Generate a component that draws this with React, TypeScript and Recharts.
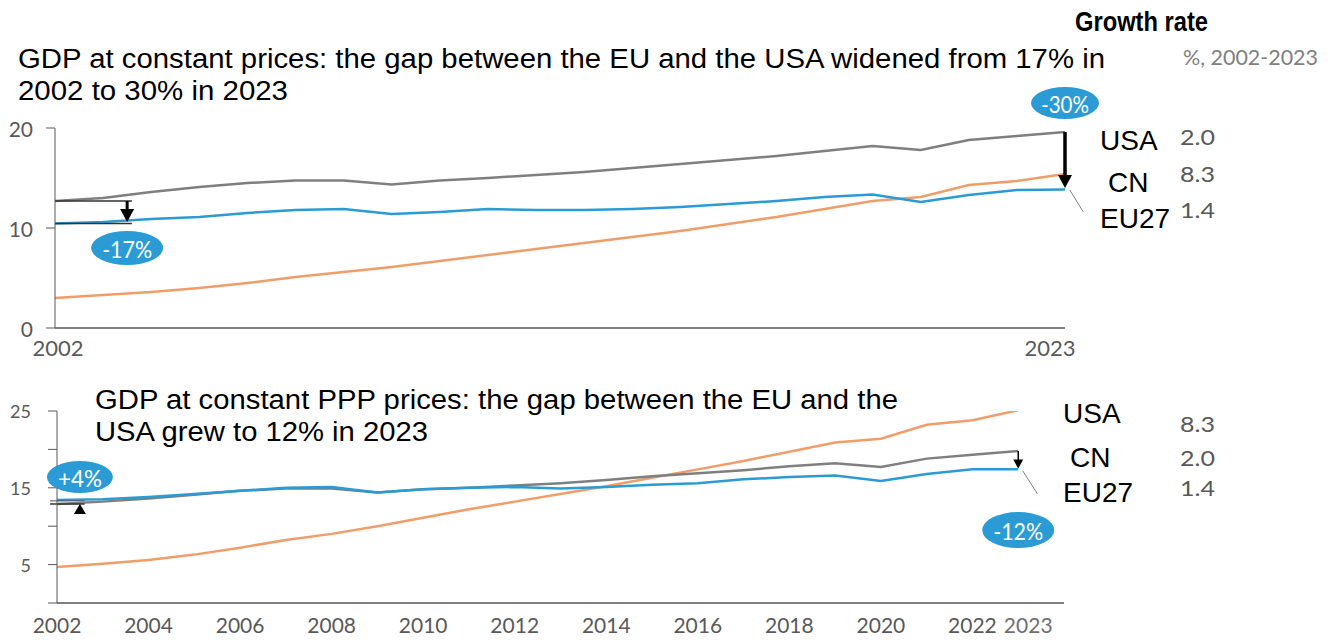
import React from 'react';
import { LineChart, Line, XAxis, YAxis, ReferenceLine, ReferenceDot } from 'recharts';

const years = [2002, 2003, 2004, 2005, 2006, 2007, 2008, 2009, 2010, 2011, 2012, 2013, 2014, 2015, 2016, 2017, 2018, 2019, 2020, 2021, 2022, 2023];

// GDP at constant prices (trillions)
const usaConst = [12.7, 13.0, 13.6, 14.1, 14.5, 14.75, 14.75, 14.35, 14.75, 15.0, 15.3, 15.6, 16.0, 16.4, 16.8, 17.2, 17.7, 18.2, 17.8, 18.8, 19.2, 19.6];
const euConst = [10.45, 10.6, 10.9, 11.1, 11.5, 11.8, 11.9, 11.4, 11.6, 11.9, 11.8, 11.8, 11.9, 12.1, 12.4, 12.7, 13.1, 13.35, 12.6, 13.3, 13.8, 13.85];
const cnConst = [3.0, 3.3, 3.6, 4.0, 4.5, 5.1, 5.6, 6.1, 6.7, 7.3, 7.9, 8.5, 9.1, 9.7, 10.4, 11.1, 11.9, 12.7, 13.1, 14.3, 14.7, 15.4];

// GDP at constant PPP prices (trillions)
const usaPpp = [12.9, 13.2, 13.6, 14.1, 14.6, 14.9, 14.9, 14.4, 14.8, 15.0, 15.3, 15.6, 16.0, 16.5, 16.9, 17.3, 17.8, 18.2, 17.7, 18.8, 19.3, 19.8];
const euPpp = [13.4, 13.5, 13.8, 14.2, 14.6, 15.0, 15.1, 14.4, 14.8, 15.0, 15.1, 14.9, 15.1, 15.4, 15.6, 16.1, 16.4, 16.6, 15.9, 16.8, 17.4, 17.4];
const cnPpp = [4.7, 5.1, 5.6, 6.3, 7.2, 8.2, 9.0, 10.0, 11.1, 12.2, 13.2, 14.2, 15.2, 16.3, 17.4, 18.5, 19.7, 20.9, 21.4, 23.2, 23.8, 25.1];

const topXTicks = [2002, 2023];
const topYTicks = [0, 10, 20];
const bottomXTicks = [2002, 2004, 2006, 2008, 2010, 2012, 2014, 2016, 2018, 2020, 2022, 2023];
const bottomYTicks = [0, 5, 10, 15, 20, 25];
const bottomYLabelled = [5, 15, 25];

const regions = ['USA', 'CN', 'EU27'];
const growthTop = ['2.0', '8.3', '1.4'];
const growthBottom = ['8.3', '2.0', '1.4'];

const topTitle = ['GDP at constant prices: the gap between the EU and the USA widened from 17% in', '2002 to 30% in 2023'];
const bottomTitle = ['GDP at constant PPP prices: the gap between the EU and the', 'USA grew to 12% in 2023'];

const topData = years.map((y, i) => ({ year: y, usa: usaConst[i], eu: euConst[i], cn: cnConst[i] }));
const bottomData = years.map((y, i) => ({ year: y, usa: usaPpp[i], eu: euPpp[i], cn: cnPpp[i] }));

const GRAY = '#7f7f7f';
const BLUE = '#2b9bd5';
const ORANGE = '#f09d6a';
const TICK = '#595959';
const SANS = '"Liberation Sans", Arial, sans-serif';
const CAL = 'Lato, "Open Sans", sans-serif';

const Badge = (text: string, rx: number, ry: number, len: number) => (p: any) => (
  <g>
    <ellipse cx={p.cx} cy={p.cy} rx={rx} ry={ry} fill={BLUE} />
    <text x={p.cx - len / 2} y={p.cy + 1} fill="#fff" fontFamily={CAL} fontSize={23} dominantBaseline="central" textLength={len} lengthAdjust="spacingAndGlyphs">{text}</text>
  </g>
);

const ArrowDown = (w: number, h: number) => (p: any) => (
  <polygon points={`${p.cx - w / 2},${p.cy - h} ${p.cx + w / 2},${p.cy - h} ${p.cx},${p.cy}`} fill="#000" />
);
const ArrowUp = (w: number, h: number) => (p: any) => (
  <polygon points={`${p.cx - w / 2},${p.cy + h} ${p.cx + w / 2},${p.cy + h} ${p.cx},${p.cy}`} fill="#000" />
);

const TopXTick = (p: any) => {
  const v = p.payload.value;
  const dx = v === 2023 ? -15 : 3;
  return (
    <text x={p.x + dx} y={356} fill={TICK} fontFamily={CAL} fontSize={22} textAnchor="middle">{v}</text>
  );
};
const TopYTick = (p: any) => (
  <text x={33} y={p.y} fill={TICK} fontFamily={CAL} fontSize={21} textAnchor="end" dominantBaseline="central">{p.payload.value}</text>
);
const BottomXTick = (p: any) => {
  const v = p.payload.value;
  const dx = v === 2023 ? 10 : 0;
  return (
    <text x={p.x + dx} y={273} fill={v === 2023 ? '#6f6f6f' : TICK} fontFamily={CAL} fontSize={21} textAnchor="middle">{v}</text>
  );
};
const BottomYTick = (p: any) => {
  const v = p.payload.value;
  if (!bottomYLabelled.includes(v)) return <g />;
  return (
    <text x={31} y={p.y} fill={TICK} fontFamily={CAL} fontSize={18} textAnchor="end" dominantBaseline="central">{v}</text>
  );
};

const Title = ({ x, y, len, children }: any) => (
  <text x={x} y={y} fontFamily={SANS} fontSize={27} fill="#000" textLength={len} lengthAdjust="spacingAndGlyphs">{children}</text>
);

export default function App() {
  return (
    <div style={{ position: 'absolute', left: 0, top: 0, width: 1331, height: 640, background: '#fff' }}>
      <div style={{ position: 'absolute', left: 0, top: 0 }}>
        <LineChart width={1331} height={368} data={topData} margin={{ top: 128, right: 266, bottom: 10, left: 0 }}>
          <XAxis dataKey="year" type="number" domain={[2002, 2023]} ticks={topXTicks} tick={<TopXTick />} tickLine={false} axisLine={{ stroke: GRAY, strokeWidth: 2 }} height={30} allowDataOverflow />
          <YAxis type="number" domain={[0, 20]} ticks={topYTicks} tick={<TopYTick />} tickSize={9} tickLine={{ stroke: TICK }} axisLine={{ stroke: TICK }} width={55} allowDataOverflow />
          <Line dataKey="usa" stroke={GRAY} strokeWidth={2.5} dot={false} isAnimationActive={false} />
          <Line dataKey="cn" stroke={ORANGE} strokeWidth={2.5} dot={false} isAnimationActive={false} />
          <Line dataKey="eu" stroke={BLUE} strokeWidth={2.5} dot={false} isAnimationActive={false} />
          <ReferenceLine segment={[{ x: 2002, y: 12.7 }, { x: 2003.6, y: 12.7 }]} stroke="#333" strokeWidth={1.5} ifOverflow="visible" />
          <ReferenceLine segment={[{ x: 2002, y: 10.45 }, { x: 2003.6, y: 10.45 }]} stroke="#333" strokeWidth={1.5} ifOverflow="visible" />
          <ReferenceLine segment={[{ x: 2003.5, y: 12.7 }, { x: 2003.5, y: 11.6 }]} stroke="#000" strokeWidth={3} ifOverflow="visible" />
          <ReferenceDot x={2003.5} y={10.6} r={1} shape={ArrowDown(14, 13)} ifOverflow="visible" />
          <ReferenceDot x={2003.5} y={8.0} r={1} shape={Badge('-17%', 36, 17, 50)} ifOverflow="visible" />
          <ReferenceLine segment={[{ x: 2023, y: 19.6 }, { x: 2023, y: 15.2 }]} stroke="#000" strokeWidth={3.5} ifOverflow="visible" />
          <ReferenceDot x={2023} y={14.0} r={1} shape={ArrowDown(14, 13)} ifOverflow="visible" />
          <ReferenceDot x={2023} y={22.5} r={1} shape={Badge('-30%', 34, 16, 48)} ifOverflow="visible" />
          <ReferenceLine segment={[{ x: 2023.1, y: 13.8 }, { x: 2023.38, y: 11.6 }]} stroke={GRAY} strokeWidth={1} ifOverflow="visible" />
        </LineChart>
      </div>
      <div style={{ position: 'absolute', left: 0, top: 360 }}>
        <LineChart width={1331} height={280} data={bottomData} margin={{ top: 51, right: 267, bottom: 7, left: 0 }}>
          <XAxis dataKey="year" type="number" domain={[2002, 2024]} ticks={bottomXTicks} tick={<BottomXTick />} tickLine={false} axisLine={{ stroke: GRAY, strokeWidth: 2 }} height={30} allowDataOverflow />
          <YAxis type="number" domain={[0, 25]} ticks={bottomYTicks} tick={<BottomYTick />} tickSize={9} tickLine={{ stroke: TICK }} axisLine={{ stroke: TICK }} width={57} allowDataOverflow />
          <Line dataKey="cn" stroke={ORANGE} strokeWidth={2.5} dot={false} isAnimationActive={false} />
          <Line dataKey="usa" stroke={GRAY} strokeWidth={2.5} dot={false} isAnimationActive={false} />
          <Line dataKey="eu" stroke={BLUE} strokeWidth={2.5} dot={false} isAnimationActive={false} />
          <ReferenceLine segment={[{ x: 2001.85, y: 12.9 }, { x: 2002.6, y: 12.9 }]} stroke="#333" strokeWidth={1.5} ifOverflow="visible" />
          <ReferenceLine segment={[{ x: 2001.85, y: 13.3 }, { x: 2002.6, y: 13.3 }]} stroke="#555" strokeWidth={1} ifOverflow="visible" />
          <ReferenceDot x={2002.5} y={12.9} r={1} shape={ArrowUp(12, 10)} ifOverflow="visible" />
          <ReferenceDot x={2002.5} y={16.4} r={1} shape={Badge('+4%', 33, 16, 44)} ifOverflow="visible" />
          <ReferenceLine segment={[{ x: 2023, y: 19.8 }, { x: 2023, y: 18.5 }]} stroke="#000" strokeWidth={1.5} ifOverflow="visible" />
          <ReferenceDot x={2023} y={17.5} r={1} shape={ArrowDown(10, 9)} ifOverflow="visible" />
          <ReferenceDot x={2023} y={9.5} r={1} shape={Badge('-12%', 36, 18, 50)} ifOverflow="visible" />
          <ReferenceLine segment={[{ x: 2023.1, y: 17.2 }, { x: 2023.42, y: 14.2 }]} stroke={GRAY} strokeWidth={1} ifOverflow="visible" />
        </LineChart>
      </div>
      <svg width={1331} height={640} style={{ position: 'absolute', left: 0, top: 0, pointerEvents: 'none' }}>
        <Title x={18} y={68} len={1087}>{topTitle[0]}</Title>
        <Title x={18} y={100} len={270}>{topTitle[1]}</Title>
        <Title x={95} y={409} len={803}>{bottomTitle[0]}</Title>
        <Title x={95} y={441} len={333}>{bottomTitle[1]}</Title>
        <text x={1075} y={31} fontFamily={SANS} fontSize={27} fontWeight="bold" fill="#000" textLength={133} lengthAdjust="spacingAndGlyphs">Growth rate</text>
        <text x={1183} y={65} fontFamily={CAL} fontSize={21} fill="#808080" textLength={135} lengthAdjust="spacingAndGlyphs">%, 2002-2023</text>
        <text x={1100} y={150} fontFamily={SANS} fontSize={28} fill="#000">{regions[0]}</text>
        <text x={1108} y={192} fontFamily={SANS} fontSize={28} fill="#000">{regions[1]}</text>
        <text x={1100} y={228} fontFamily={SANS} fontSize={28} fill="#000">{regions[2]}</text>
        <text x={1180} y={145} fontFamily={CAL} fontSize={21} fill={TICK} textLength={35} lengthAdjust="spacingAndGlyphs">{growthTop[0]}</text>
        <text x={1180} y={182} fontFamily={CAL} fontSize={21} fill={TICK} textLength={35} lengthAdjust="spacingAndGlyphs">{growthTop[1]}</text>
        <text x={1180} y={218} fontFamily={CAL} fontSize={21} fill={TICK} textLength={35} lengthAdjust="spacingAndGlyphs">{growthTop[2]}</text>
        <text x={1063} y={423} fontFamily={SANS} fontSize={28} fill="#000">{regions[0]}</text>
        <text x={1070} y={467} fontFamily={SANS} fontSize={28} fill="#000">{regions[1]}</text>
        <text x={1063} y={502} fontFamily={SANS} fontSize={28} fill="#000">{regions[2]}</text>
        <text x={1180} y={432} fontFamily={CAL} fontSize={21} fill={TICK} textLength={35} lengthAdjust="spacingAndGlyphs">{growthBottom[0]}</text>
        <text x={1180} y={466} fontFamily={CAL} fontSize={21} fill={TICK} textLength={35} lengthAdjust="spacingAndGlyphs">{growthBottom[1]}</text>
        <text x={1180} y={496} fontFamily={CAL} fontSize={21} fill={TICK} textLength={35} lengthAdjust="spacingAndGlyphs">{growthBottom[2]}</text>
      </svg>
    </div>
  );
}
